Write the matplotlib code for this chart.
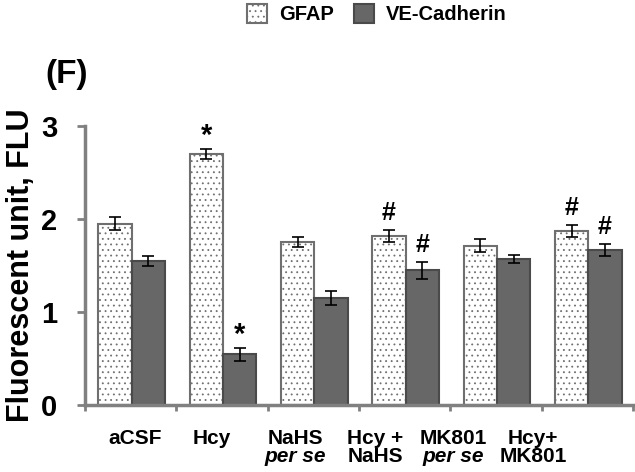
import numpy as np
import matplotlib.pyplot as plt

plt.rcParams['font.family'] = ['Liberation Sans', 'DejaVu Sans']
plt.rcParams['font.weight'] = 'bold'
plt.rcParams['hatch.color'] = '#222222'
plt.rcParams['hatch.linewidth'] = 0.6

groups_line1 = ['aCSF', 'Hcy', 'NaHS', 'Hcy +', 'MK801', 'Hcy+']
groups_line2 = ['', '', 'per se', 'NaHS', 'per se', 'MK801']
gfap = [1.95, 2.70, 1.75, 1.82, 1.71, 1.87]
gfap_err = [0.07, 0.055, 0.055, 0.065, 0.07, 0.065]
ve = [1.55, 0.545, 1.15, 1.45, 1.57, 1.67]
ve_err = [0.055, 0.07, 0.08, 0.09, 0.045, 0.065]
gfap_marks = ['', '*', '', '#', '', '#']
ve_marks = ['', '*', '', '#', '', '#']

fig = plt.figure(figsize=(6.35, 4.72), dpi=100)
ax = fig.add_axes([0.134, 0.142, 0.863, 0.591])

x = np.arange(len(gfap))
w = 0.365
off = 0.01
b1 = ax.bar(x - w / 2 + off, gfap, w, color='white', edgecolor='#6f6f6f',
            linewidth=1.5, hatch='...', label='GFAP', zorder=2)
b2 = ax.bar(x + w / 2 + off, ve, w, color='#676767', edgecolor='#4a4a4a',
            linewidth=1.5, label='VE-Cadherin', zorder=2)
ax.errorbar(x - w / 2 + off, gfap, yerr=gfap_err, fmt='none', ecolor='black',
            elinewidth=1.2, capsize=4, capthick=1.2, zorder=3)
ax.errorbar(x + w / 2 + off, ve, yerr=ve_err, fmt='none', ecolor='black',
            elinewidth=1.2, capsize=4, capthick=1.2, zorder=3)

for i in range(len(gfap)):
    for xs, v, e, m in [(x[i] - w / 2 + off, gfap[i], gfap_err[i], gfap_marks[i]),
                        (x[i] + w / 2 + off, ve[i], ve_err[i], ve_marks[i])]:
        if m == '*':
            ax.text(xs, v + e - 0.01, m, ha='center', va='bottom',
                    fontsize=21, fontweight='bold')
        elif m:
            ax.text(xs, v + e + 0.05, m, ha='center', va='bottom',
                    fontsize=18, fontweight='bold')

ax.set_xlim(-0.5, len(gfap) - 0.5)
ax.set_ylim(0, 3)
ax.set_yticks([0, 1, 2, 3])
ax.set_yticklabels(['0', '1', '2', '3'], fontsize=21, fontweight='bold')
ax.set_xticks(np.arange(-0.5, len(gfap), 1.0))
ax.set_xticklabels([])
ax.tick_params(axis='both', colors='#808080', width=2, labelcolor='black')
ax.tick_params(axis='y', length=6, pad=14)
ax.tick_params(axis='x', length=4)
for s in ['top', 'right']:
    ax.spines[s].set_visible(False)
for s in ['left', 'bottom']:
    ax.spines[s].set_color('#808080')
    ax.spines[s].set_linewidth(2.5)

ax.set_ylabel('Fluorescent unit, FLU', fontsize=22, fontweight='bold', labelpad=4)

# category labels sit a little left of the bar groups in the original
label_x = [135, 212, 295, 375, 453, 533]
for i in range(len(gfap)):
    fig.text(label_x[i] / 635, 1 - 438 / 472, groups_line1[i],
             ha='center', va='center', fontsize=15, fontweight='bold')
    if groups_line2[i]:
        style = 'italic' if groups_line2[i] == 'per se' else 'normal'
        fig.text(label_x[i] / 635, 1 - 456 / 472, groups_line2[i],
                 ha='center', va='center', fontsize=15, fontweight='bold',
                 style=style)

fig.text(45 / 635, 1 - 75 / 472, '(F)', fontsize=24, fontweight='bold',
         ha='left', va='center')

fig.legend(handles=[b1, b2], loc='center', bbox_to_anchor=(377 / 635, 1 - 14 / 472),
           ncol=2, frameon=False, fontsize=14.5, handlelength=1.0, handleheight=1.1,
           columnspacing=1.0, handletextpad=0.6)

fig.savefig('out.png', dpi=100)
